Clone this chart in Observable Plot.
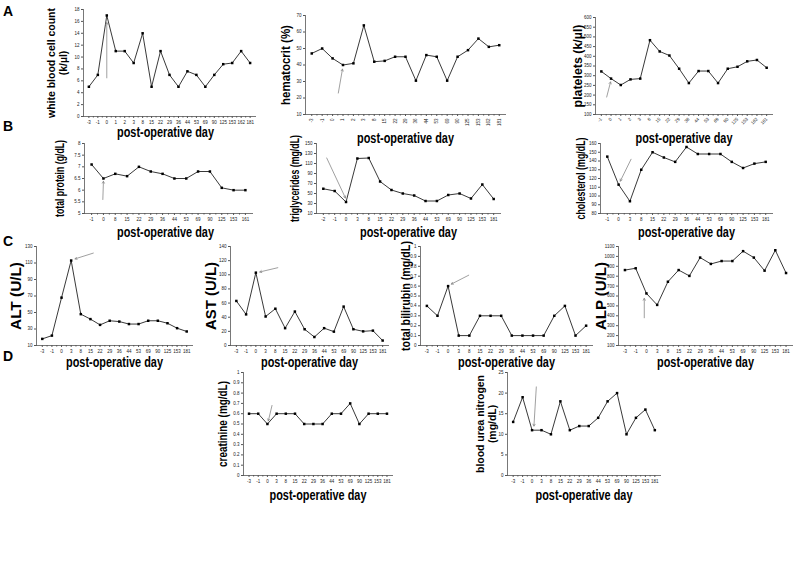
<!DOCTYPE html>
<html><head><meta charset="utf-8">
<script src="https://cdn.jsdelivr.net/npm/d3@7"></script>
<script src="https://cdn.jsdelivr.net/npm/@observablehq/plot@0.6"></script>
<style>
body{margin:0;background:#fff;}
#root{position:relative;width:800px;height:568px;overflow:hidden;font-family:"Liberation Sans",Arial,sans-serif;background:#fff;}
.panel{position:absolute;}
.letter{position:absolute;font-weight:bold;font-size:14px;line-height:14px;}
</style></head><body><div id="root"></div>
<script>
// ---------- data ----------
const wbcDays = ["-3","-1","0","1","2","3","8","15","22","29","36","44","53","69","90","125","153","162","181"];
const wbcValues = [5,7,17,11,11,9,14,5,11,7,5,7.6,7,5,7,8.8,9,11,9];
const wbcTicks = [0,2,4,6,8,10,12,14,16,18];
const wbcArrows = [{x1:2,y1:6.5,x2:2,y2:15.8}];

const hctDays = ["-3","-1","0","1","2","3","8","15","22","29","36","44","53","69","90","125","153","162","181"];
const hctValues = [47,50,44,40,41,64,42,42.5,45,45,30.5,46,45,30.5,45,49,56,51,52];
const hctTicks = [10,20,30,40,50,60,70];
const hctArrows = [{x1:2.55,y1:23,x2:2.95,y2:37.5}];

const pltDays = ["-1","0","1","2","3","8","15","22","29","36","44","53","69","90","125","153","162","181"];
const pltValues = [322,285,252,281,285,483,425,404,336,262,324,324,262,336,346,374,381,341];
const pltTicks = [100,150,200,250,300,350,400,450,500,550,600];
const pltArrows = [{x1:0.55,y1:190,x2:0.95,y2:268}];

const tpDays = ["-1","0","8","15","22","29","36","44","53","69","90","125","153","161"];
const tpValues = [7.1,6.5,6.7,6.6,7.0,6.8,6.7,6.5,6.5,6.8,6.8,6.1,6.0,6.0];
const tpTicks = [5,5.5,6,6.5,7,7.5,8];
const tpArrows = [{x1:0.95,y1:5.6,x2:1,y2:6.38}];

const tgDays = ["-2","-1","0","3","8","15","22","29","36","44","53","69","90","125","153","181"];
const tgValues = [59.5,55,33,120,121,74,57,50,46,35,35,47,50,40,68,39];
const tgTicks = [10,30,50,70,90,110,130,150];
const tgArrows = [{x1:0.3,y1:121,x2:1.95,y2:41}];

const cholDays = ["-1","0","3","8","15","22","29","36","44","53","69","90","125","153","181"];
const cholValues = [145,113,94,130,150,144,139,156,148,148,148,139,132,137,139];
const cholTicks = [80,90,100,110,120,130,140,150,160];
const cholArrows = [{x1:2.1,y1:142,x2:1.15,y2:117}];

const altDays = ["-3","-1","0","3","8","15","22","29","36","44","53","69","90","125","153","181"];
const altValues = [18,22,68,113,48,42,35,40,39,36,36,40,40,37,31,27];
const altTicks = [10,30,50,70,90,110,130];
const altArrows = [{x1:5.3,y1:122,x2:3.4,y2:115}];

const astDays = ["-3","-1","0","3","8","15","22","29","36","44","53","69","90","125","153","181"];
const astValues = [63,44,103,41,52,24.5,48,23,12,24.5,19.6,55,23,20,21,7];
const astTicks = [0,20,40,60,80,100,120,140];
const astArrows = [{x1:4.25,y1:110,x2:2.4,y2:104}];

const biliDays = ["-3","-1","0","3","8","15","22","29","36","44","53","69","90","125","153","181"];
const biliValues = [0.4,0.3,0.6,0.1,0.1,0.3,0.3,0.3,0.1,0.1,0.1,0.1,0.3,0.4,0.1,0.2];
const biliTicks = [0,0.1,0.2,0.3,0.4,0.5,0.6,0.7,0.8,0.9,1];
const biliArrows = [{x1:3.94,y1:0.71,x2:2.3,y2:0.62}];

const alpDays = ["-3","-1","0","3","8","15","22","29","36","44","53","69","90","125","153","181"];
const alpValues = [862,880,626,510,744,862,803,988,924,953,953,1053,988,856,1062,832];
const alpTicks = [100,200,300,400,500,600,700,800,900,1000,1100];
const alpArrows = [{x1:1.8,y1:380,x2:1.8,y2:576}];

const creaDays = ["-3","-1","0","3","8","15","22","29","36","44","53","69","90","125","153","181"];
const creaValues = [0.6,0.6,0.5,0.6,0.6,0.6,0.5,0.5,0.5,0.6,0.6,0.7,0.5,0.6,0.6,0.6];
const creaTicks = [0,0.1,0.2,0.3,0.4,0.5,0.6,0.7,0.8,0.9,1];
const creaArrows = [{x1:2.5,y1:0.68,x2:2.1,y2:0.53}];

const bunDays = ["-3","-1","0","3","8","15","22","29","36","44","53","69","90","125","153","181"];
const bunValues = [13,19,11,11,10,18,11,12,12,14,18,20,10,14,16,11];
const bunTicks = [0,5,10,15,20,25];
const bunArrows = [{x1:2.45,y1:21.5,x2:2.2,y2:12}];

const xTitle = "post-operative day";
const panelLetters = ["A","B","C","D"];

// ---------- drawing ----------
const root = document.getElementById("root");
const fmt = d => String(+(+d).toFixed(2));

function squeeze(el, target) {
  if (!el || !target) return;
  const spans = el.querySelectorAll("tspan");
  let len = 0;
  if (spans.length) spans.forEach(t => { len = Math.max(len, t.getComputedTextLength()); });
  else len = el.getComputedTextLength();
  if (!len) return;
  const sx = target / len;
  const tr = el.getAttribute("transform");
  if (tr) el.setAttribute("transform", tr + " scale(" + sx + ",1)");
  else {
    const x = +el.getAttribute("x") || 0, y = +el.getAttribute("y") || 0;
    el.setAttribute("transform", "translate(" + x + "," + y + ") scale(" + sx + ",1) translate(" + (-x) + "," + (-y) + ")");
  }
}

function makePanel(p) {
  const n = p.days.length;
  const data = p.values.map((v, i) => ({i, v}));
  const idx = d3.range(n);
  const mid = d3.range(n - 1).map(i => i + 0.5);
  const mL = 70, mR = 10, mT = 8, mB = 36;
  const w = p.R - p.L, h = p.B - p.T;
  const svg = Plot.plot({
    width: w + mL + mR, height: h + mT + mB,
    marginLeft: mL, marginRight: mR, marginTop: mT, marginBottom: mB,
    style: {fontFamily: '"Liberation Sans", Arial, sans-serif', overflow: "visible", background: "transparent"},
    x: {domain: [-0.6, n - 0.4]},
    y: {domain: [p.ticks[0], p.ticks[p.ticks.length - 1]]},
    marks: [
      Plot.frame({anchor: "left", stroke: "#555", strokeWidth: 0.8}),
      Plot.frame({anchor: "bottom", stroke: "#555", strokeWidth: 0.8}),
      Plot.axisY({ticks: p.ticks, tickFormat: fmt, tickSize: 2, tickPadding: 2, fontSize: 4.5, fill: "#222", stroke: "#555", label: null}),
      Plot.axisX({ticks: idx, tickFormat: i => p.days[i], tickSize: 2, tickPadding: 2, fontSize: 4.5, fill: "#222", stroke: "#555", tickRotate: p.rotate || 0, label: null}),
      Plot.axisX({ticks: mid, tickFormat: () => "", tickSize: 1.5, stroke: "#555", label: null}),
      Plot.line(data, {x: "i", y: "v", stroke: "#222", strokeWidth: 0.9}),
      Plot.dot(data, {x: "i", y: "v", symbol: "square", r: 1.4, fill: "#000"}),
      Plot.arrow(p.arrows, {x1: "x1", y1: "y1", x2: "x2", y2: "y2", stroke: "#888", strokeWidth: 0.8, headLength: 4}),
      Plot.text([p.yLabel], {text: d => d, frameAnchor: "left", dx: p.yLabelX - p.L, rotate: -90, fontSize: p.yLabelSize || 11, fontWeight: "bold", lineAnchor: "middle", textAnchor: "middle", fill: "#000"}),
      Plot.text([xTitle], {text: d => d, frameAnchor: "bottom", dy: p.xLabelY - p.B, dx: p.xLabelDx || 0, fontSize: 14, fontWeight: "bold", lineAnchor: "middle", fill: "#000"})
    ]
  });
  svg.classList.add("panel");
  svg.style.left = (p.L - mL) + "px";
  svg.style.top = (p.T - mT) + "px";
  svg.style.position = "absolute";
  root.appendChild(svg);
  const groups = svg.querySelectorAll('g[aria-label="text"]');
  if (groups.length >= 2) {
    squeeze(groups[groups.length - 2].querySelector("text"), p.yLabelLen);
    squeeze(groups[groups.length - 1].querySelector("text"), 97);
  }
}

const panels = [
  {days: wbcDays, values: wbcValues, ticks: wbcTicks, arrows: wbcArrows, L: 83, T: 9, R: 255, B: 116, yLabel: "white blood cell count\n(k/\u00b5l)", yLabelX: 57, yLabelSize: 11.5, yLabelLen: 110, xLabelY: 132, xLabelDx: -4},
  {days: hctDays, values: hctValues, ticks: hctTicks, arrows: hctArrows, L: 305, T: 15, R: 505, B: 114, rotate: -90, yLabel: "hematocrit (%)", yLabelX: 285, yLabelSize: 12.5, yLabelLen: 80, xLabelY: 138},
  {days: pltDays, values: pltValues, ticks: pltTicks, arrows: pltArrows, L: 595, T: 17, R: 772, B: 114, rotate: -45, yLabel: "platelets (k/\u00b5l)", yLabelX: 577, yLabelSize: 12.5, yLabelLen: 83, xLabelY: 138},
  {days: tpDays, values: tpValues, ticks: tpTicks, arrows: tpArrows, L: 84, T: 143, R: 252, B: 213, yLabel: "total protein (g/dL)", yLabelX: 59, yLabelSize: 13, yLabelLen: 77, xLabelY: 232, xLabelDx: -3},
  {days: tgDays, values: tgValues, ticks: tgTicks, arrows: tgArrows, L: 316, T: 143, R: 500, B: 213, yLabel: "triglycerides (mg/dL)", yLabelX: 294, yLabelSize: 13, yLabelLen: 87, xLabelY: 232},
  {days: cholDays, values: cholValues, ticks: cholTicks, arrows: cholArrows, L: 600, T: 143, R: 772, B: 213, yLabel: "cholesterol (mg/dL)", yLabelX: 580, yLabelSize: 13, yLabelLen: 82, xLabelY: 232},
  {days: altDays, values: altValues, ticks: altTicks, arrows: altArrows, L: 36, T: 246, R: 192, B: 345, yLabel: "ALT (U/L)", yLabelX: 16, yLabelSize: 14, yLabelLen: 68, xLabelY: 362},
  {days: astDays, values: astValues, ticks: astTicks, arrows: astArrows, L: 230, T: 246, R: 388, B: 345, yLabel: "AST (U/L)", yLabelX: 211, yLabelSize: 14, yLabelLen: 68, xLabelY: 362},
  {days: biliDays, values: biliValues, ticks: biliTicks, arrows: biliArrows, L: 420, T: 246, R: 592, B: 345, yLabel: "total bilirubin (mg/dL)", yLabelX: 406, yLabelSize: 12, yLabelLen: 110, xLabelY: 362},
  {days: alpDays, values: alpValues, ticks: alpTicks, arrows: alpArrows, L: 618, T: 246, R: 792, B: 345, yLabel: "ALP (U/L)", yLabelX: 601, yLabelSize: 14, yLabelLen: 68, xLabelY: 362},
  {days: creaDays, values: creaValues, ticks: creaTicks, arrows: creaArrows, L: 243, T: 372, R: 392, B: 475, yLabel: "creatinine (mg/dL)", yLabelX: 223, yLabelSize: 12, yLabelLen: 86, xLabelY: 495},
  {days: bunDays, values: bunValues, ticks: bunTicks, arrows: bunArrows, L: 507, T: 372, R: 660, B: 475, yLabel: "blood urea nitrogen\n(mg/dL)", yLabelX: 486, yLabelSize: 11.5, yLabelLen: 98, xLabelY: 495}
];
panels.forEach(makePanel);

const letterPos = [[3, 4], [3, 119], [3, 234], [3, 349]];
panelLetters.forEach((t, k) => {
  const el = document.createElement("div");
  el.className = "letter";
  el.textContent = t;
  el.style.left = letterPos[k][0] + "px";
  el.style.top = letterPos[k][1] + "px";
  root.appendChild(el);
});
</script></body></html>
